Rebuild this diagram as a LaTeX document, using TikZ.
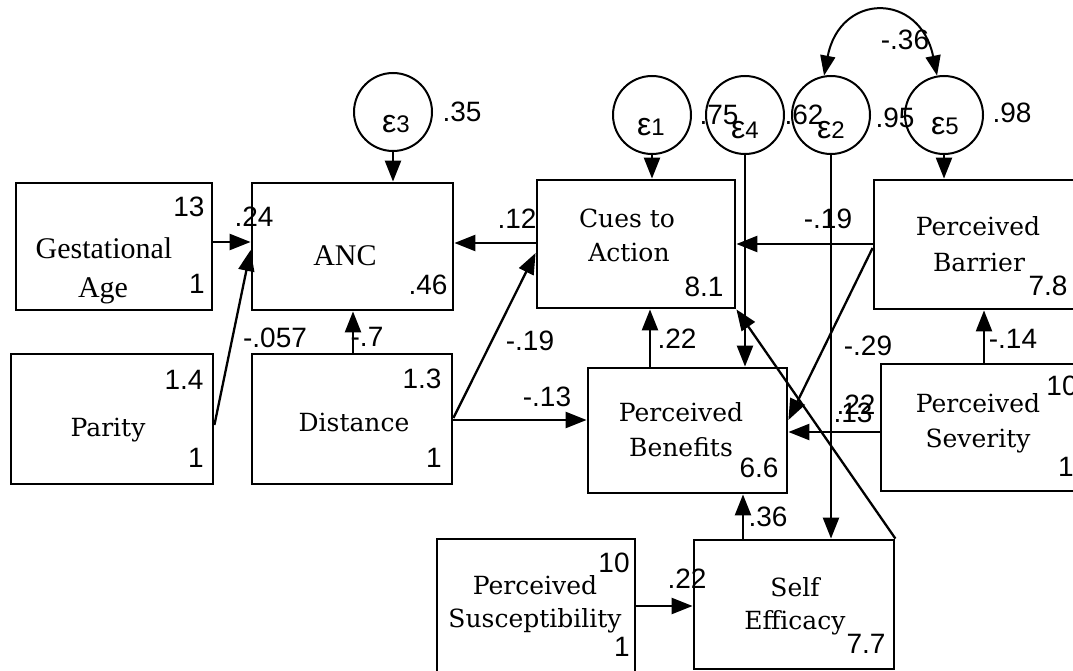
\documentclass[tikz,border=0pt]{standalone}
\usepackage{fontspec}
\newfontfamily\numf{Liberation Sans}
\newfontfamily\timf{Liberation Serif}
\newfontfamily\serf{DejaVu Serif}
\usetikzlibrary{arrows.meta,fit}
\begin{document}
\begin{tikzpicture}[x=1pt,y=-1pt,
  box/.style={draw, line width=2.8pt, inner sep=0pt},
  err/.style={draw, circle, line width=2pt, minimum size=78pt, inner sep=0pt},
  pth/.style={line width=2.3pt, -{Triangle[length=21pt,width=16pt]}},
  lab/.style={font=\numf\fontsize{28}{28}\selectfont, inner sep=0pt},
  eps/.style={font=\numf\fontsize{32}{32}\selectfont, inner sep=0pt},
  lm/.style={font=\serf\fontsize{25}{25}\selectfont, inner sep=0pt, anchor=base},
  tim/.style={font=\timf\fontsize{30}{30}\selectfont, inner sep=0pt, anchor=base}]
\useasboundingbox (0,0) rectangle (1073,671);
% boxes
\node[box, fit={(16,183) (212,310)}] (gest) {};
\node[box, fit={(252,183) (453,310)}] (anc) {};
\node[box, fit={(537,180) (735,308)}] (cues) {};
\node[box, fit={(874,180) (1082,309)}] (bar) {};
\node[box, fit={(11,354) (213,484)}] (par) {};
\node[box, fit={(252,354) (452,484)}] (dist) {};
\node[box, fit={(588,368) (787,493)}] (ben) {};
\node[box, fit={(881,364) (1082,491)}] (sev) {};
\node[box, fit={(437,539) (635,682)}] (sus) {};
\node[box, fit={(694,540) (894,669)}] (se) {};
% box texts
\node[tim] (gestA) at (104,258) {Gestational};
\node[tim] (gestB) at (103,297) {Age};
\node[tim] (ancT) at (345,265) {ANC};
\node[lm] (cuesA) at (627,227) {Cues to};
\node[lm] (cuesB) at (629,261) {Action};
\node[lm] (barA) at (978,236) {Perceived};
\node[lm] (barB) at (979,271) {Barrier};
\node[lm] (parT) at (108,436) {Parity};
\node[lm] (distT) at (354,431) {Distance};
\node[lm] (benA) at (681,421) {Perceived};
\node[lm] (benB) at (681,456) {Benefits};
\node[lm] (sevA) at (978,412) {Perceived};
\node[lm] (sevB) at (978,447) {Severity};
\node[lm] (susA) at (535,594) {Perceived};
\node[lm] (susB) at (535,627) {Susceptibility};
\node[lm] (seA) at (795,596) {Self};
\node[lm] (seB) at (795,629) {Efficacy};
% box numbers
\node[lab] (n1) at (189,207) {13};
\node[lab] (n2) at (197,284) {1};
\node[lab] (n3) at (428,285) {.46};
\node[lab] (n4) at (704,287) {8.1};
\node[lab] (n5) at (1048,286) {7.8};
\node[lab] (n6) at (184,380) {1.4};
\node[lab] (n7) at (196,458) {1};
\node[lab] (n8) at (422,379) {1.3};
\node[lab] (n9) at (434,458) {1};
\node[lab] (n10) at (759,468) {6.6};
\node[lab] (n11) at (1062,386) {10};
\node[lab] (n12) at (1066,467) {1};
\node[lab] (n13) at (614,563) {10};
\node[lab] (n14) at (622,647) {1};
\node[lab] (n15) at (866,644) {7.7};
% error circles
\node[err] (e3) at (393,112) {};
\node[err] (e1) at (652,115) {};
\node[err] (e4) at (745,115) {};
\node[err] (e2) at (831,115) {};
\node[err] (e5) at (944,115) {};
\node[eps] (e3t) at (396,124) {ε\fontsize{24}{24}\selectfont 3};
\node[eps] (e1t) at (651,127) {ε\fontsize{24}{24}\selectfont 1};
\node[eps] (e4t) at (745,130) {ε\fontsize{24}{24}\selectfont 4};
\node[eps] (e2t) at (831,130) {ε\fontsize{24}{24}\selectfont 2};
\node[eps] (e5t) at (945,126) {ε\fontsize{24}{24}\selectfont 5};
% connectors
\draw[pth] (gest.east |- 0,242) -- (anc.west |- 0,242);
\draw[pth] (par.east |- 0,425) -- (anc.west |- 0,250);
\draw[pth] (dist.north -| 353,0) -- (anc.south -| 353,0);
\draw[pth] (dist.east |- 0,418) -- (cues.west |- 0,253);
\draw[pth] (dist.east |- 0,420) -- (ben.west |- 0,420);
\draw[pth] (cues.west |- 0,243) -- (anc.east |- 0,243);
\draw[pth] (e3.south) -- (anc.north -| e3.south);
\draw[pth] (e1.south) -- (cues.north -| e1.south);
\draw[pth] (bar.west |- 0,244) -- (cues.east |- 0,244);
\draw[pth] (e4.south) -- (ben.north -| e4.south);
\draw[pth] (e2.south) -- (se.north -| e2.south);
\draw[pth] (e5.south) -- (bar.north -| e5.south);
\draw[pth] (bar.west |- 0,248) -- (ben.east |- 0,420);
\draw[pth] (sev.west |- 0,432) -- (ben.east |- 0,432);
\draw[pth] (sev.north -| 984,0) -- (bar.south -| 984,0);
\draw[pth] (ben.north -| 650,0) -- (cues.south -| 650,0);
\draw[pth] (se.north -| 743,0) -- (ben.south -| 743,0);
\draw[pth] (se.north east) -- (cues.south east);
\draw[pth] (sus.east |- 0,606) -- (se.west |- 0,606);
\draw[line width=2pt, {Triangle[length=20pt,width=15pt]}-{Triangle[length=20pt,width=15pt]}]
  (e2.100) .. controls (840,-8) and (920,-8) .. (e5.100);
% connector and variance labels
\node[lab] (l35) at (462,112) {.35};
\node[lab] (l75) at (719,115) {.75};
\node[lab] (l62) at (804,115) {.62};
\node[lab] (l95) at (895,118) {.95};
\node[lab] (l98) at (1012,113) {.98};
\node[lab] (l36b) at (905,40) {-.36};
\node[lab] (l24) at (254,217) {.24};
\node[lab] (l12) at (517,219) {.12};
\node[lab] (l057) at (275,338) {-.057};
\node[lab] (l7) at (367,337) {-.7};
\node[lab] (l19a) at (530,341) {-.19};
\node[lab] (l13a) at (547,397) {-.13};
\node[lab] (l19b) at (828,219) {-.19};
\node[lab] (l22a) at (677,339) {.22};
\node[lab] (l29) at (868,346) {-.29};
\node[lab] (l14) at (1013,339) {-.14};
\node[lab] (l22b) at (856,405) {.22};
\node[lab] (l13b) at (853,413) {.13};
\node[lab] (l36) at (768,517) {.36};
\node[lab] (l22c) at (687,579) {.22};
\end{tikzpicture}
\end{document}
